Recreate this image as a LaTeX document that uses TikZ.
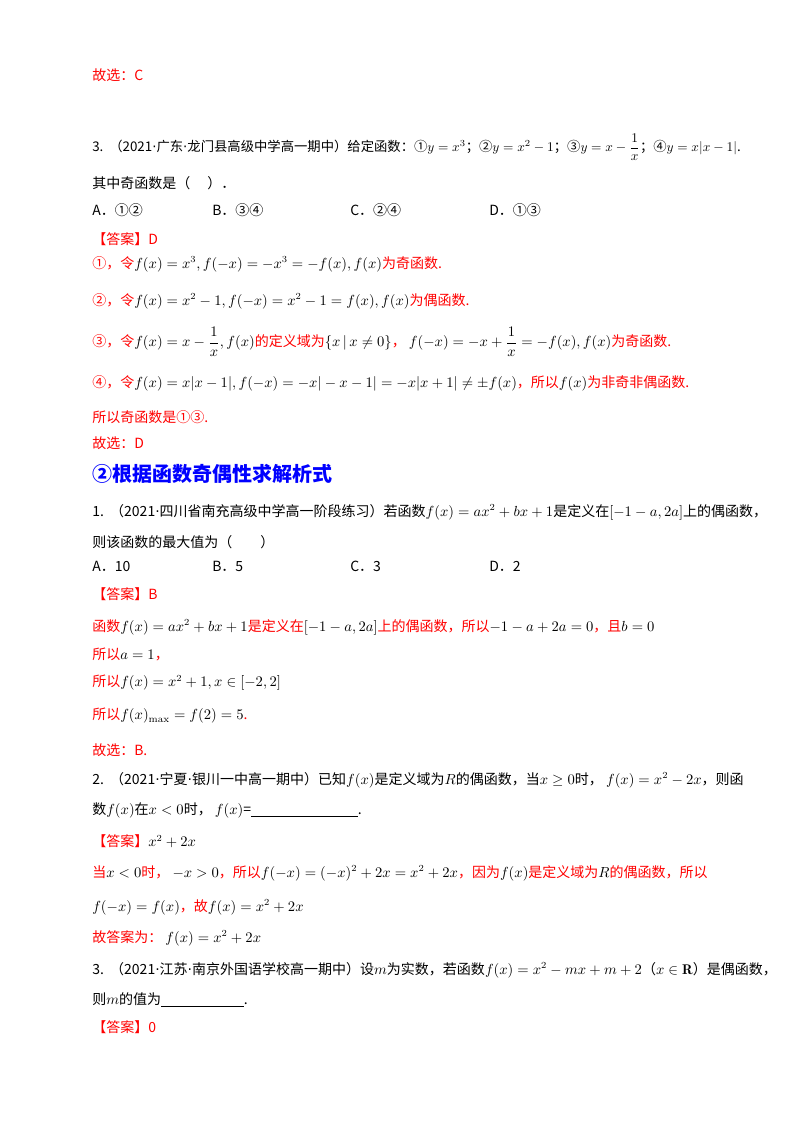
\documentclass[tikz,border=0pt]{standalone}
\usepackage{amsmath,amssymb}
\usepackage{fontspec}
\newfontfamily\cjk{Noto Sans CJK SC}
\newfontfamily\dvs{DejaVu Sans}
\definecolor{ared}{RGB}{255,0,0}
\definecolor{hblue}{RGB}{0,0,255}
\newcommand{\R}[1]{\textcolor{ared}{#1}}
\newcommand{\md}{{\dvs\char"00B7}}
\begin{document}
\begin{tikzpicture}[x=0.75pt,y=-0.75pt,
  t/.style={anchor=west,inner sep=0pt,font=\cjk\fontsize{10.5}{12}\selectfont},
  rt/.style={t,text=ared},
  hd/.style={anchor=west,inner sep=0pt,text=hblue,font=\cjk\bfseries\fontsize{15}{18}\selectfont}]
\fill[white] (0,0) rectangle (800,1132);
\useasboundingbox (0,0) rectangle (800,1132);
\node[rt] (l1) at (92,75) {故选：C};
\node[t,font=\cjk\fontsize{10}{12}\selectfont] (l2) at (92,147) {3.\ \ （2021\md 广东\md 龙门县高级中学高一期中）给定函数：①$y=x^3$；②$y=x^2-1$；③$y=x-\dfrac{1}{x}$；④$y=x|x-1|$.};
\node[t] (l3) at (92,183) {其中奇函数是（\quad\ ）．};
\node[t] (a1) at (92,210) {A．①②};
\node[t] (b1) at (212,210) {B．③④};
\node[t] (c1) at (350,210) {C．②④};
\node[t] (d1) at (489,210) {D．①③};
\node[rt] (k1) at (92,239) {【答案】D};
\node[t] (s1) at (92,264) {\R{①，令}$f(x)=x^3,f(-x)=-x^3=-f(x),f(x)$\R{为奇函数.}};
\node[t] (s2) at (92,301) {\R{②，令}$f(x)=x^2-1,f(-x)=x^2-1=f(x),f(x)$\R{为偶函数.}};
\node[t] (s3) at (92,342) {\R{③，令}$f(x)=x-\dfrac{1}{x},f(x)$\R{的定义域为}$\{x\,|\,x\neq0\}$\R{，}\ $f(-x)=-x+\dfrac{1}{x}=-f(x),f(x)$\R{为奇函数.}};
\node[t] (s4) at (92,383) {\R{④，令}$f(x)=x|x-1|,f(-x)=-x|-x-1|=-x|x+1|\neq\pm f(x)$\R{，所以}$f(x)$\R{为非奇非偶函数.}};
\node[rt] (s5) at (92,417) {所以奇函数是①③.};
\node[rt] (s6) at (92,443) {故选：D};
\node[hd] (h) at (92,474) {②根据函数奇偶性求解析式};
\node[t] (p1) at (92,512) {1.\ \ （2021\md 四川省南充高级中学高一阶段练习）若函数$f(x)=ax^2+bx+1$是定义在$[-1-a,2a]$上的偶函数，};
\node[t] (p1b) at (92,542) {则该函数的最大值为（\qquad）};
\node[t] (a2) at (92,566) {A．10};
\node[t] (b2) at (212,566) {B．5};
\node[t] (c2) at (350,566) {C．3};
\node[t] (d2) at (489,566) {D．2};
\node[rt] (k2) at (92,594) {【答案】B};
\node[t] (q1) at (92,627) {\R{函数}$f(x)=ax^2+bx+1$\R{是定义在}$[-1-a,2a]$\R{上的偶函数，所以}$-1-a+2a=0$\R{，且}$b=0$};
\node[t] (q2) at (92,654) {\R{所以}$a=1$\R{，}};
\node[t] (q3) at (92,683) {\R{所以}$f(x)=x^2+1,x\in[-2,2]$};
\node[t] (q4) at (92,716) {\R{所以}$f(x)_{\max}=f(2)=5$\R{.}};
\node[rt] (q5) at (92,750) {故选：B.};
\node[t] (p2) at (92,780) {2.\ \ （2021\md 宁夏\md 银川一中高一期中）已知$f(x)$是定义域为$R$的偶函数，当$x\geq0$时，\ $f(x)=x^2-2x$，则函};
\node[t] (p2b) at (92,810) {数$f(x)$在$x<0$时，\ $f(x)$=\underline{\hspace{80pt}}.};
\node[t] (k3) at (92,841) {\R{【答案】}$x^2+2x$};
\node[t] (r1) at (92,873) {\R{当}$x<0$\R{时，}\ $-x>0$\R{，所以}$f(-x)=(-x)^2+2x=x^2+2x$\R{，因为}$f(x)$\R{是定义域为}$R$\R{的偶函数，所以}};
\node[t] (r2) at (92,907) {$f(-x)=f(x)$\R{，故}$f(x)=x^2+2x$};
\node[t] (r3) at (92,938) {\R{故答案为：}\ $f(x)=x^2+2x$};
\node[t] (p3) at (92,970) {3.\ \ （2021\md 江苏\md 南京外国语学校高一期中）设$m$为实数，若函数$f(x)=x^2-mx+m+2$（$x\in\mathbf{R}$）是偶函数，};
\node[t] (p3b) at (92,1000) {则$m$的值为\underline{\hspace{62pt}}.};
\node[rt] (k4) at (92,1027) {【答案】0};
\end{tikzpicture}
\end{document}
